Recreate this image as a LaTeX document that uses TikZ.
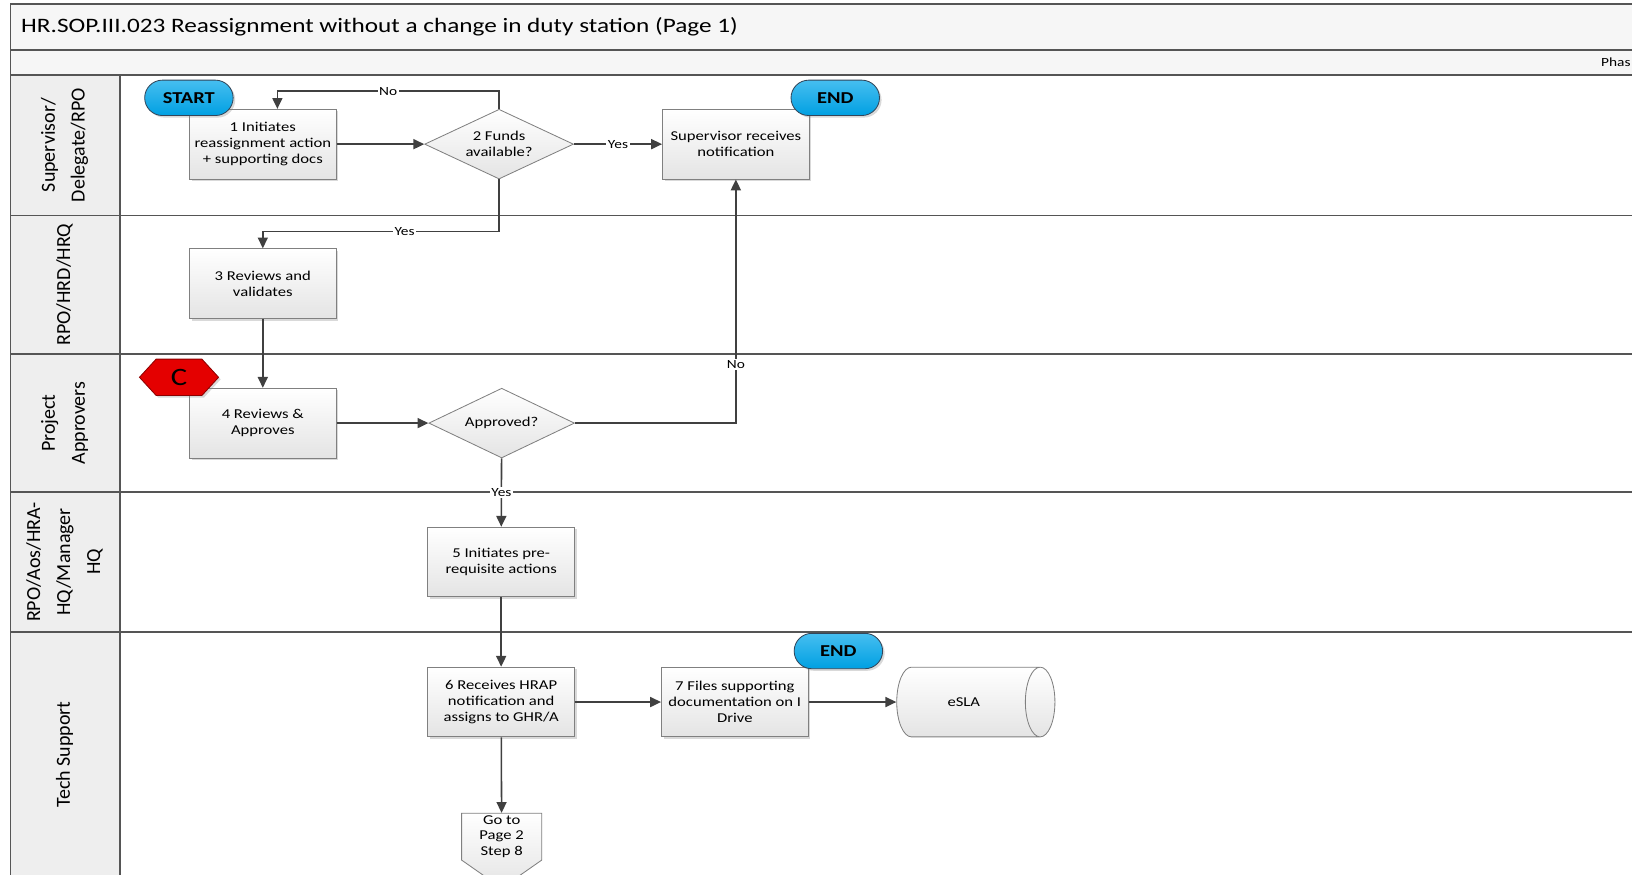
\documentclass[tikz,border=0pt]{standalone}
\usepackage{fontspec}
\setmainfont[FakeStretch=1.23]{Carlito}
\newfontfamily\lanefont{Carlito}
\usetikzlibrary{arrows.meta,shapes.geometric,shapes.symbols,shadows}

\definecolor{framegray}{RGB}{85,85,85}
\definecolor{linegray}{RGB}{64,64,64}
\definecolor{boxedge}{RGB}{128,128,128}
\definecolor{boxfill}{RGB}{228,228,228}
\definecolor{barfill}{RGB}{246,246,246}
\definecolor{lanefill}{RGB}{238,238,238}
\definecolor{termblue}{RGB}{0,160,226}
\definecolor{termtop}{RGB}{70,190,240}
\definecolor{termedge}{RGB}{50,70,90}
\definecolor{hexred}{RGB}{228,0,0}
\definecolor{hexedge}{RGB}{140,0,0}

\begin{document}
\begin{tikzpicture}[x=0.5pt, y=-0.5pt, >={Triangle[length=5.2pt,width=4.8pt]},
  frame/.style={draw=framegray, line width=0.8pt},
  lanelbl/.style={rotate=90, align=center, font=\lanefont\fontsize{9.6}{14.4}\selectfont},
  procbox/.style={rectangle, draw=boxedge, top color=white, bottom color=boxfill,
    minimum width=70.5pt, minimum height=33.5pt, align=center, inner sep=1pt,
    font=\fontsize{6.5}{7.6}\selectfont,
    drop shadow={shadow xshift=1pt, shadow yshift=-1pt, opacity=0.3}},
  decision/.style={diamond, draw=boxedge, top color=white, bottom color=boxfill,
    minimum width=71.5pt, minimum height=33.5pt, aspect=2.1, inner sep=0pt,
    align=center, font=\fontsize{6.5}{7.6}\selectfont},
  terminal/.style={rectangle, rounded corners=8.5pt, draw=termedge,
    top color=termtop, bottom color=termblue, minimum width=42.5pt,
    minimum height=17pt, font=\fontsize{8}{9}\selectfont\bfseries,
    drop shadow={shadow xshift=1pt, shadow yshift=-1pt, opacity=0.3}},
  hexmark/.style={signal, signal to=west and east, signal pointer angle=95,
    draw=hexedge, fill=hexred, minimum width=38pt, minimum height=17.5pt,
    inner sep=0pt, font=\fontsize{12}{12}\selectfont,
    drop shadow={shadow xshift=1pt, shadow yshift=-1pt, opacity=0.3}},
  offpage/.style={signal, signal to=south, signal pointer angle=110,
    draw=boxedge, top color=white, bottom color=boxfill, minimum width=38.5pt,
    inner sep=1pt, align=center, font=\fontsize{6.5}{7.6}\selectfont},
  store/.style={cylinder, shape aspect=1.3, draw=boxedge, top color=white,
    bottom color=boxfill, minimum width=33.5pt, minimum height=76pt,
    font=\fontsize{6.5}{7.6}\selectfont},
  flow/.style={->, draw=linegray, line width=0.75pt},
  lbl/.style={fill=white, inner sep=0.8pt, font=\fontsize{6}{7}\selectfont}]
  \useasboundingbox (0,0) rectangle (1568,840);
  \clip (0,0) rectangle (1568,840);
  % title and phase bars
  \draw[frame, fill=barfill] (10,4) rectangle (1600,48);
  \node[anchor=west, inner sep=0pt, font=\fontsize{9.85}{12}\selectfont] (title) at (20,26)
    {HR.SOP.III.023 Reassignment without a change in duty station (Page 1)};
  \draw[frame, fill=barfill] (10,48) rectangle (1600,72);
  \node[anchor=east, inner sep=0pt, font=\fontsize{6}{7}\selectfont] (phase) at (1567,60) {Phas};
  % lanes
  \draw[frame] (115,72) rectangle (1600,207);
  \draw[frame] (115,207) rectangle (1600,340);
  \draw[frame] (115,340) rectangle (1600,473);
  \draw[frame] (115,473) rectangle (1600,607);
  \draw[frame] (115,607) rectangle (1600,900);
  \draw[frame, fill=lanefill] (10,72) rectangle (115,207);
  \draw[frame, fill=lanefill] (10,207) rectangle (115,340);
  \draw[frame, fill=lanefill] (10,340) rectangle (115,473);
  \draw[frame, fill=lanefill] (10,473) rectangle (115,607);
  \draw[frame, fill=lanefill] (10,607) rectangle (115,900);
  \node[lanelbl] (lane1) at (62,139.5) {Supervisor/\\Delegate/RPO};
  \node[lanelbl] (lane2) at (62,273.5) {RPO/HRD/HRQ};
  \node[lanelbl] (lane3) at (62,406.5) {Project\\Approvers};
  \node[lanelbl] (lane4) at (62,540) {RPO/Aos/HRA-\\HQ/Manager\\HQ};
  \node[lanelbl] (lane5) at (62,725) {Tech Support};
  % steps
  \node[procbox] (b1) at (252.5,138.5) {1 Initiates\\reassignment action\\+ supporting docs};
  \node[decision] (d2) at (479.5,138.5) {2 Funds\\available?};
  \node[procbox] (sup) at (707,138.5) {Supervisor receives\\notification};
  \node[procbox] (b3) at (252.5,272.5) {3 Reviews and\\validates};
  \node[procbox] (b4) at (252.5,406.5) {4 Reviews \&\\Approves};
  \node[decision, minimum width=70pt] (d4) at (482,406.5) {Approved?};
  \node[procbox] (b5) at (481.5,540) {5 Initiates pre-\\requisite actions};
  \node[procbox] (b6) at (481.5,674.5) {6 Receives HRAP\\notification and\\assigns to GHR/A};
  \node[procbox] (b7) at (706,674.5) {7 Files supporting\\documentation on I\\Drive};
  \node[store] (esla) at (926,674.5) {eSLA};
  \node[offpage, anchor=north] (goto) at (482,781) {Go to\\Page 2\\Step 8};
  \node[terminal] (start) at (181.5,94) {START};
  \node[terminal] (end1) at (802.5,94) {END};
  \node[terminal] (end2) at (805.5,625.5) {END};
  \node[hexmark] (mark) at (172,362.5) {C};
  % connectors
  \draw[flow] (b1) -- (d2);
  \draw[flow] (d2.north) -- ++(0,-17) -| node[lbl, pos=0.25] {No} ([xshift=7pt]b1.north);
  \draw[flow] (d2) -- node[lbl] {Yes} (sup);
  \draw[flow] (d2.south) -- ++(0,50) -| node[lbl, pos=0.2] {Yes} (b3.north);
  \draw[flow] (b3) -- (b4);
  \draw[flow] (b4) -- (d4);
  \draw[flow] (d4.east) -| node[lbl, pos=0.62] {No} (sup.south);
  \draw[flow] (d4) -- node[lbl] {Yes} (b5);
  \draw[flow] (b5) -- (b6);
  \draw[flow] (b6) -- (b7);
  \draw[flow] (b7) -- (esla);
  \draw[flow] (b6) -- (goto);
\end{tikzpicture}
\end{document}
